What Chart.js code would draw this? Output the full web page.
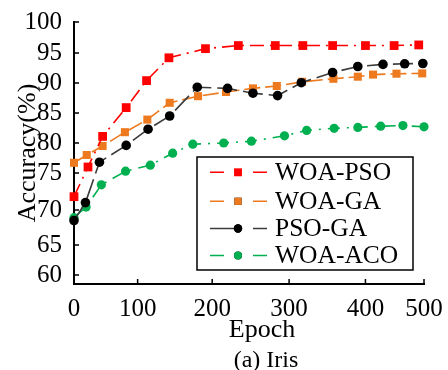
<!DOCTYPE html>
<html><head><meta charset="utf-8">
<script src="https://cdn.jsdelivr.net/npm/chart.js@4.4.1/dist/chart.umd.min.js"></script>
<style>html,body{margin:0;padding:0;background:#fff;}#wrap{width:448px;height:370px;}</style>
</head><body><div id="wrap"><canvas id="c" width="448" height="370"></canvas></div>
<script>
// ---------- data ----------
const seriesNames = ['WOA-PSO', 'WOA-GA', 'PSO-GA', 'WOA-ACO'];
const epochsWOAPSO = [0, 22, 45, 82, 112, 142, 191, 234, 282, 318, 357, 400, 449, 491];
const accWOAPSO    = [71.8, 76, 81.1, 85.9, 90.4, 94.2, 95.7, 96.2, 96.2, 96.2, 96.2, 96.2, 96.2, 96.3];
const epochsWOAGA  = [0, 20, 45, 80, 113, 143, 181, 218, 253, 284, 317, 358, 390, 413, 453, 497];
const accWOAGA     = [76.7, 78, 79.5, 81.8, 83.9, 86.7, 87.8, 88.5, 89.1, 89.5, 90.2, 90.7, 91.05, 91.4, 91.55, 91.6];
const epochsPSOGA  = [0, 18, 40, 82, 114, 143, 180, 220, 253, 285, 316, 357, 390, 430, 467, 498];
const accPSOGA     = [68.5, 71, 76.8, 79.6, 82.3, 84.5, 89.3, 89.1, 88.3, 87.9, 90.05, 91.75, 92.75, 93.1, 93.2, 93.25];
const epochsWOAACO = [0, 19, 43, 81, 117, 147, 174, 215, 251, 294, 323, 359, 390, 426, 464, 500];
const accWOAACO    = [68.9, 70.4, 73.4, 75.3, 76.3, 78.3, 79.8, 80.0, 80.3, 81.2, 82.1, 82.45, 82.6, 82.8, 82.9, 82.7];
const xTickValues = [0, 100, 200, 300, 400, 500];
const yTickValues = [60, 65, 70, 75, 80, 85, 90, 95, 100];

// ---------- axis calibration (the reference axes are unevenly spaced) ----------
const AXIS_CAL = {
  x: { v: [0, 100, 200, 300, 400, 500], f: [0, 0.1818, 0.3948, 0.6146, 0.8327, 1] },
  y: { v: [58.5, 60, 65, 70, 75, 80, 85, 90, 95, 100], f: [0, 0.0344, 0.1489, 0.2824, 0.4237, 0.5382, 0.6527, 0.7672, 0.8817, 1] }
};
function interp(v, xs, ys) {
  const n = xs.length;
  let i = 0;
  if (v <= xs[0]) i = 0;
  else if (v >= xs[n - 1]) i = n - 2;
  else { while (i < n - 2 && v > xs[i + 1]) i++; }
  const t = (v - xs[i]) / (xs[i + 1] - xs[i]);
  return ys[i] + t * (ys[i + 1] - ys[i]);
}
class CalibratedScale extends Chart.LinearScale {
  getPixelForValue(value) {
    const c = AXIS_CAL[this.id];
    return this.getPixelForDecimal(interp(value, c.v, c.f));
  }
  getValueForPixel(pixel) {
    const c = AXIS_CAL[this.id];
    return interp(this.getDecimalForPixel(pixel), c.f, c.v);
  }
}
CalibratedScale.id = 'calibrated';
Chart.register(CalibratedScale);

const FONT = '"Liberation Serif", "Times New Roman", serif';

function mk(xs, ys) { return xs.map((x, i) => ({ x: x, y: ys[i] })); }

const styles = [
  { color: '#ff0000', mcolor: '#ff0000', dash: [14, 6, 2, 6], style: 'rect', r: 6.2, order: 1 },
  { color: '#ee7a1f', mcolor: '#ee7a1f', dash: [16, 5], style: 'rect', r: 5.7, order: 4 },
  { color: '#3c3c3c', mcolor: '#000000', dash: [20, 6], style: 'circle', r: 4.8, order: 2 },
  { color: '#00b050', mcolor: '#00b050', dash: [12, 7, 2, 7], style: 'circle', r: 4.6, order: 3 }
];
const dataLists = [mk(epochsWOAPSO, accWOAPSO), mk(epochsWOAGA, accWOAGA), mk(epochsPSOGA, accPSOGA), mk(epochsWOAACO, accWOAACO)];

const datasets = seriesNames.map((name, i) => ({
  label: name,
  data: dataLists[i],
  borderColor: styles[i].color,
  backgroundColor: styles[i].mcolor,
  borderWidth: 1.6,
  borderDash: styles[i].dash,
  pointStyle: styles[i].style,
  pointRadius: styles[i].r,
  pointBackgroundColor: styles[i].mcolor,
  pointBorderWidth: 0,
  tension: 0,
  clip: false,
  order: styles[i].order
}));

// inward tick marks
const inwardTicks = {
  id: 'inwardTicks',
  beforeDatasetsDraw(chart) {
    const ctx = chart.ctx, a = chart.chartArea;
    const xs = chart.scales.x, ys = chart.scales.y;
    ctx.save();
    ctx.strokeStyle = '#000';
    ctx.lineWidth = 1.5;
    ctx.beginPath();
    xTickValues.forEach(v => { const p = xs.getPixelForValue(v); ctx.moveTo(p, a.bottom); ctx.lineTo(p, a.bottom - 5); });
    yTickValues.forEach(v => { const p = ys.getPixelForValue(v); ctx.moveTo(a.left, p); ctx.lineTo(a.left + 5, p); });
    ctx.stroke();
    ctx.restore();
  }
};

// titles
const titles = {
  id: 'titles',
  afterDraw(chart) {
    const ctx = chart.ctx;
    ctx.save();
    ctx.fillStyle = '#000';
    ctx.font = '26px ' + FONT;
    ctx.textAlign = 'center';
    ctx.textBaseline = 'alphabetic';
    ctx.fillText('Epoch', 262, 337);
    ctx.font = '24px ' + FONT;
    ctx.fillText('(a) Iris', 266, 367);
    ctx.translate(35, 153);
    ctx.rotate(-Math.PI / 2);
    ctx.font = '26px ' + FONT;
    ctx.fillText('Accuracy(%)', 0, 0);
    ctx.restore();
  }
};

// legend inside plot
const boxLegend = {
  id: 'boxLegend',
  afterDraw(chart) {
    const ctx = chart.ctx;
    const bx = 197, by = 157, bw = 216, bh = 113;
    ctx.save();
    ctx.fillStyle = '#fff';
    ctx.fillRect(bx, by, bw, bh);
    ctx.strokeStyle = '#000';
    ctx.lineWidth = 1.5;
    ctx.strokeRect(bx, by, bw, bh);
    const rows = [172.3, 201.3, 228.5, 255.5];
    chart.data.datasets.forEach((ds, i) => {
      const y = rows[i];
      ctx.strokeStyle = ds.borderColor;
      ctx.lineWidth = 1.6;
      ctx.setLineDash([]);
      ctx.beginPath();
      ctx.moveTo(210, y); ctx.lineTo(i === 2 ? 238 : 224, y);
      ctx.moveTo(253, y); ctx.lineTo(267, y);
      ctx.stroke();
      Chart.helpers.drawPoint(ctx, { pointStyle: ds.pointStyle, radius: ds.pointRadius - 0.6, borderWidth: 0 }, 238, y);
      ctx.fillStyle = ds.pointBackgroundColor;
      ctx.fill();
      ctx.fillStyle = '#000';
      ctx.font = '25.5px ' + FONT;
      ctx.textAlign = 'left';
      ctx.textBaseline = 'middle';
      ctx.fillText(ds.label, 275, y + 1);
    });
    ctx.restore();
  }
};

new Chart(document.getElementById('c'), {
  type: 'line',
  data: { datasets: datasets },
  options: {
    responsive: false,
    animation: false,
    devicePixelRatio: 1,
    layout: { padding: { top: 22, right: 24, left: 0, bottom: 0 } },
    plugins: { legend: { display: false }, tooltip: { enabled: false } },
    scales: {
      x: {
        type: 'calibrated', min: 0, max: 500,
        afterBuildTicks: s => { s.ticks = xTickValues.map(v => ({ value: v })); },
        afterFit: s => { s.height = 86; },
        grid: { display: false },
        border: { display: true, color: '#000', width: 2 },
        ticks: { color: '#000', font: { family: FONT, size: 25 }, padding: 2, maxRotation: 0, autoSkip: false }
      },
      y: {
        type: 'calibrated', min: 58.5, max: 100,
        afterBuildTicks: s => { s.ticks = yTickValues.map(v => ({ value: v })); },
        afterFit: s => { s.width = 74; },
        grid: { display: false },
        border: { display: true, color: '#000', width: 2 },
        ticks: { color: '#000', font: { family: FONT, size: 25 }, padding: 4, autoSkip: false }
      }
    }
  },
  plugins: [inwardTicks, titles, boxLegend]
});
</script></body></html>
